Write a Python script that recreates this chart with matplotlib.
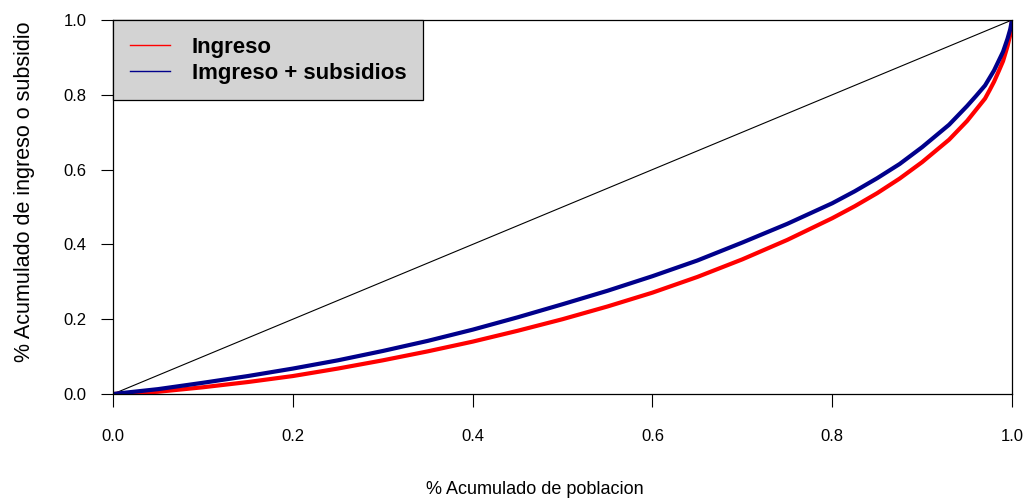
import matplotlib
matplotlib.use("Agg")
import matplotlib.pyplot as plt
from matplotlib.lines import Line2D

plt.rcParams['font.family'] = ['Liberation Sans', 'DejaVu Sans']

# cumulative population share
pob = [0, 0.05, 0.1, 0.15, 0.2, 0.25, 0.3, 0.35, 0.4, 0.45, 0.5, 0.55, 0.6,
       0.65, 0.7, 0.75, 0.8, 0.825, 0.85, 0.875, 0.9, 0.91, 0.92, 0.93, 0.94,
       0.95, 0.96, 0.97, 0.975, 0.98, 0.985, 0.99, 0.995, 0.998, 1.0]
# Lorenz curve, income only
ingreso = [0, 0.006, 0.018, 0.032, 0.048, 0.068, 0.09, 0.114, 0.14, 0.169, 0.20,
           0.234, 0.271, 0.313, 0.36, 0.412, 0.47, 0.502, 0.537, 0.576, 0.62,
           0.64, 0.66, 0.68, 0.705, 0.73, 0.76, 0.79, 0.812, 0.835, 0.862,
           0.89, 0.93, 0.96, 1.0]
# Lorenz curve, income + subsidies
ing_subs = [0, 0.013, 0.03, 0.048, 0.068, 0.09, 0.115, 0.142, 0.172, 0.205, 0.24,
            0.276, 0.315, 0.357, 0.405, 0.455, 0.51, 0.542, 0.577, 0.615, 0.66,
            0.68, 0.70, 0.72, 0.745, 0.77, 0.797, 0.825, 0.845, 0.865, 0.89,
            0.915, 0.95, 0.975, 1.0]
ticks = [0.0, 0.2, 0.4, 0.6, 0.8, 1.0]
labels = ["Ingreso", "Imgreso + subsidios"]

fig = plt.figure(figsize=(10.24, 5), dpi=100)
ax = fig.add_axes([0.1104, 0.212, 0.8779, 0.748])

ax.plot([0, 1], [0, 1], color="black", lw=0.8)
ax.plot(pob, ingreso, color="#ff0000", lw=3)
ax.plot(pob, ing_subs, color="#00008b", lw=3)

ax.set_xlim(0, 1)
ax.set_ylim(0, 1)
ax.set_xticks(ticks)
ax.set_yticks(ticks)
ax.set_xticklabels([f"{t:.1f}" for t in ticks])
ax.set_yticklabels([f"{t:.1f}" for t in ticks])
ax.tick_params(axis="x", length=9, width=0.8, pad=16, labelsize=12)
ax.tick_params(axis="y", length=9, width=0.8, pad=10, labelsize=12)
for s in ax.spines.values():
    s.set_linewidth(0.9)

ax.set_xlabel("% Acumulado de poblacion", fontsize=13)
ax.xaxis.set_label_coords(0.469, -0.232)
ax.set_ylabel("% Acumulado de ingreso o subsidio", fontsize=15.5)
ax.yaxis.set_label_coords(-0.087, 0.54)

handles = [Line2D([0], [0], color="#ff0000", lw=1),
           Line2D([0], [0], color="#00008b", lw=1)]
leg = ax.legend(handles, labels, loc="upper left", bbox_to_anchor=(0, 1),
                borderaxespad=0, fancybox=False, framealpha=1,
                facecolor="#d3d3d3", edgecolor="black",
                prop={"size": 16, "weight": "bold"},
                handlelength=1.8, handletextpad=1.0, borderpad=0.75,
                labelspacing=0.22)
leg.get_frame().set_linewidth(0.9)

fig.savefig("out.png", dpi=100)
